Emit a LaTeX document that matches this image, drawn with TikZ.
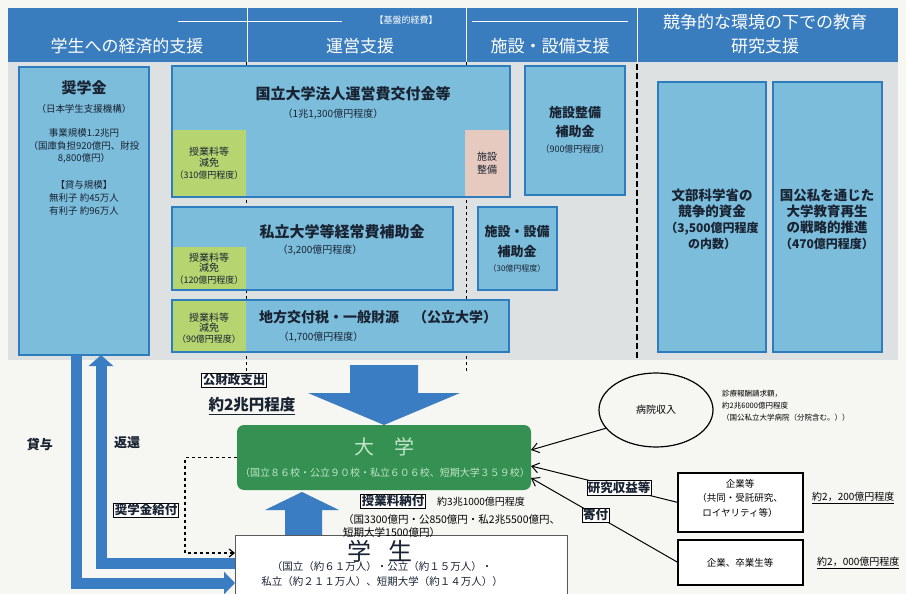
\documentclass[tikz,border=0pt]{standalone}
\usepackage{fontspec}
\setmainfont{Noto Sans CJK JP}
\usetikzlibrary{shapes.geometric,arrows.meta,calc}
\definecolor{bgc}{RGB}{246,246,242}
\definecolor{hdrblue}{RGB}{58,125,190}
\definecolor{panelc}{RGB}{222,225,225}
\definecolor{lblue}{RGB}{124,189,220}
\definecolor{bord}{RGB}{45,125,190}
\definecolor{lgreen}{RGB}{182,212,112}
\definecolor{pinkc}{RGB}{230,202,192}
\definecolor{dgreen}{RGB}{52,145,82}
\definecolor{dtxt}{RGB}{195,228,200}
\definecolor{arrblue}{RGB}{58,125,195}
\definecolor{txt}{RGB}{25,35,50}
\newcommand\rbox[7]{%
  \pgfmathsetlengthmacro\rbw{(#5)-(#3)}%
  \pgfmathsetlengthmacro\rbh{(#6)-(#4)}%
  \node[#2,anchor=north west,minimum width=\rbw,minimum height=\rbh,inner sep=0pt,outer sep=0pt] (#1) at (#3,#4) {#7};}
\newcommand\fsz[2]{\fontsize{#1}{#2}\selectfont}
\begin{document}
\begin{tikzpicture}[x=1pt,y=-1pt,
  bb/.style={draw=bord,fill=lblue,line width=1.2pt},
  tt/.style={font=\bfseries\fsz{15}{18},text=txt,inner sep=0pt},
  st/.style={font=\fsz{10}{12},text=txt,inner sep=0pt},
  gt/.style={font=\fsz{10}{12},text=txt,inner sep=0pt},
  gp/.style={font=\fsz{9}{11},text=txt,inner sep=0pt},
  hd/.style={font=\fsz{17}{20},text=white,inner sep=0pt},
  lab/.style={draw=black,fill=white,line width=0.8pt,inner sep=1pt,font=\bfseries\fsz{12.5}{13},text=txt},
  blk/.style={draw=black,line width=1pt,-{Straight Barb[length=7pt,width=10pt]}},
  bt/.style={font=\fsz{9}{11},text=black,inner sep=0pt}]

\fill[bgc] (0,0) rectangle (906,594);
\useasboundingbox (0,0) rectangle (906,594);

% header
\rbox{hdr}{fill=hdrblue}{8}{8}{898}{62}{}
\foreach \xx in {247,466,637} \draw[white,line width=0.8pt] (\xx,8) -- (\xx,62);
\draw[white,line width=0.8pt] (178,21) -- (342,21) (472,21) -- (628,21);
\node[hd,font=\fsz{9}{10}] (hk) at (406,20) {【基盤的経費】};
\node[hd] (h1) at (127,46) {学生への経済的支援};
\node[hd] (h2) at (360,46) {運営支援};
\node[hd] (h3) at (550,46) {施設・設備支援};
\node[hd] (h4) at (765,22) {競争的な環境の下での教育};
\node[hd] (h5) at (765,46) {研究支援};

% panel
\rbox{panel}{fill=panelc}{8}{62}{898}{360}{}
\draw[dashed,line width=1pt] (246,62) -- (246,372);
\draw[dashed,line width=1pt] (466,62) -- (466,372);
\draw[line width=1.6pt,dash pattern=on 6pt off 3pt] (637,64) -- (637,358);

% scholarship
\rbox{shogaku}{bb}{19}{67}{149}{355}{}
\node[tt] (sg1) at (84,88) {奨学金};
\node[st,font=\fsz{9.5}{11}] (sg2) at (84,109) {（日本学生支援機構）};
\node[st,font=\fsz{9.5}{11}] (sg3) at (84,133) {事業規模1.2兆円};
\node[st,font=\fsz{9.5}{11}] (sg4) at (84,146) {（国庫負担920億円、財投};
\node[st,font=\fsz{9.5}{11}] (sg5) at (84,158) {8,800億円）};
\node[st,font=\fsz{9.5}{11}] (sg6) at (84,185) {【貸与規模】};
\node[st,font=\fsz{9.5}{11}] (sg7) at (84,198) {無利子\ 約45万人};
\node[st,font=\fsz{9.5}{11}] (sg8) at (84,211) {有利子\ 約96万人};

% national
\rbox{kokuritsu}{bb}{172}{66}{510}{197}{}
\rbox{gen1}{fill=lgreen}{172.6}{130}{246}{196.4}{}
\rbox{pink}{fill=pinkc}{465}{130}{509.4}{196.4}{}
\node[tt] (k1) at (353,94) {国立大学法人運営費交付金等};
\node[st] (k2) at (333,114) {（1兆1,300億円程度）};
\node[gt] (g1a) at (209,152) {授業料等};
\node[gt] (g1b) at (209,163) {減免};
\node[gp] (g1c) at (209,175) {（310億円程度）};
\node[gt] (p1) at (487,157) {施設};
\node[gt] (p2) at (487,170) {整備};

\rbox{shisetsu1}{bb}{525}{66}{625}{195}{}
\node[tt,font=\bfseries\fsz{13}{15}] (ss1) at (575,113) {施設整備};
\node[tt,font=\bfseries\fsz{13}{15}] (ss2) at (575,132) {補助金};
\node[st,font=\fsz{9}{10}] (ss3) at (575,149) {（900億円程度）};

% private
\rbox{shiritsu}{bb}{172}{207}{453}{290}{}
\rbox{gen2}{fill=lgreen}{172.6}{247}{246}{289.4}{}
\node[tt] (sr1) at (342,232) {私立大学等経常費補助金};
\node[st] (sr2) at (320,250) {（3,200億円程度）};
\node[gt] (g2a) at (209,258) {授業料等};
\node[gt] (g2b) at (209,268) {減免};
\node[gp] (g2c) at (209,280) {（120億円程度）};

\rbox{shisetsu2}{bb}{478}{207}{557}{290}{}
\node[tt,font=\bfseries\fsz{13}{15}] (sb1) at (517,232) {施設・設備};
\node[tt,font=\bfseries\fsz{13}{15}] (sb2) at (517,252) {補助金};
\node[st,font=\fsz{8}{9}] (sb3) at (517,268) {（30億円程度）};

% local
\rbox{chiho}{bb}{172}{300}{509}{352}{}
\rbox{gen3}{fill=lgreen}{172.6}{300.6}{246}{351.4}{}
\node[tt,font=\bfseries\fsz{14}{16}] (ch1) at (378,317) {地方交付税・一般財源\quad（公立大学）};
\node[st] (ch2) at (321,337) {（1,700億円程度）};
\node[gt] (g3a) at (209,318) {授業料等};
\node[gt] (g3b) at (209,328) {減免};
\node[gp] (g3c) at (209,339) {（90億円程度）};

% competitive
\rbox{monka}{bb}{658}{82}{766}{352}{}
\rbox{kokoshi}{bb}{773}{82}{882}{352}{}
\node[tt,font=\bfseries\fsz{13.5}{16},align=center] (mk) at (712,219) {文部科学省の\\競争的資金\\{\fsz{12}{16}（3,500億円程度}\\{\fsz{12}{16}の内数）}};
\node[tt,font=\bfseries\fsz{13.5}{16},align=center] (kk) at (827,219) {国公私を通じた\\大学教育再生\\の戦略的推進\\{\fsz{12}{16}（470億円程度）}};

% public expenditure
\node[lab] (kozai) at (234,380) {公財政支出};
\node[font=\bfseries\fsz{15.5}{17},text=txt,inner sep=0pt] (yaku2) at (252,406) {\underline{約2兆円程度}};
\fill[arrblue] (350,365) -- (418,365) -- (418,393) -- (460,393) -- (384,425) -- (308,393) -- (350,393) -- cycle;

% university
\rbox{daigaku}{fill=dgreen,rounded corners=7pt}{237}{425}{531}{490}{}
\node[font=\fsz{20}{22},text=dtxt,inner sep=0pt] (dg1) at (384,447) {大　学};
\node[font=\fsz{10}{12},text=dtxt,inner sep=0pt] (dg2) at (385,473) {（国立８６校・公立９０校・私立６０６校、短期大学３５９校）};

% loans
\draw[arrblue,line width=11pt,-{Triangle[length=11pt,width=22pt]}] (shogaku.south -| 76,0) |- (235,583);
\draw[arrblue,line width=11pt,-{Triangle[length=11pt,width=24pt]}] (235,563) -| (shogaku.south -| 101,0);
\node[font=\bfseries\fsz{13}{15},text=txt,inner sep=0pt] (taiyo) at (40,445) {貸与};
\node[font=\bfseries\fsz{13}{15},text=txt,inner sep=0pt] (henkan) at (127,443) {返還};

% students
\fill[arrblue] (285,536) -- (285,510) -- (265,510) -- (302,492) -- (339,510) -- (322,510) -- (322,536) -- cycle;
\rbox{gakusei}{draw=black!65,fill=white,line width=1pt}{235}{535}{567}{605}{}
\node[font=\fsz{24}{26},text=txt,inner sep=0pt] (gk1) at (380,551) {学\hspace{0.7em}生};
\node[font=\fsz{10.5}{12},text=txt,inner sep=0pt] (gk2) at (382,567) {（国立（約６１万人）・公立（約１５万人）・};
\node[font=\fsz{10.5}{12},text=txt,inner sep=0pt] (gk3) at (382,582) {私立（約２１１万人）、短期大学（約１４万人））};

\draw[dashed,line width=1.2pt,-{Straight Barb[length=5pt,width=8pt]}] (daigaku.west) -- ++(-52,0) |- ($(gakusei.north west)+(0,18)$);
\node[lab] (kyufu) at (146,510) {奨学金給付};

% tuition
\node[lab] (jugyo) at (393,501) {授業料納付};
\node[bt,font=\fsz{10}{12},anchor=west] (j1) at (437,502) {約3兆1000億円程度};
\node[bt,font=\fsz{10.5}{12},anchor=west] (j2) at (343,520) {（国3300億円・公850億円・私2兆5500億円、};
\node[bt,font=\fsz{10.5}{12},anchor=west] (j3) at (343,533) {短期大学1500億円）};

% hospital and companies
\node[draw=black,line width=1.2pt,ellipse,minimum width=114pt,minimum height=74pt,inner sep=0pt,font=\fsz{10}{12}] (hosp) at (656,410) {病院収入};
\node[bt,font=\fsz{7.5}{12},anchor=north west,align=left] (hann) at (722,390) {診療報酬請求額，\\約2兆6000億円程度\\（国公私立大学病院（分院含む。））};
\rbox{kigyo}{draw=black,line width=1.2pt,fill=white}{678}{473}{803}{532}{}
\node[bt,align=center,font=\fsz{9.5}{14.5}] (kg) at (740,498) {企業等\\（共同・受託研究、\\ロイヤリティ等）};
\rbox{kigyo2}{draw=black,line width=1.2pt,fill=white}{678}{540}{803}{585}{}
\node[bt,font=\fsz{9.5}{11}] (kg2) at (740,563) {企業、卒業生等};
\node[bt,font=\fsz{10}{12},anchor=west] (a1) at (812,498) {\underline{約2，200億円程度}};
\node[bt,font=\fsz{10}{12},anchor=west] (a2) at (817,563) {\underline{約2，000億円程度}};

\draw[blk] (hosp.200) -- ([yshift=7.5pt]daigaku.east);
\draw[blk] (kigyo.west) -- node[lab,pos=0.4] (kenkyu) {研究収益等} ([yshift=-8.5pt]daigaku.east);
\draw[blk] (kigyo2.west) -- node[lab,pos=0.56] (kifu) {寄付} ([yshift=-20.5pt]daigaku.east);
\end{tikzpicture}
\end{document}
